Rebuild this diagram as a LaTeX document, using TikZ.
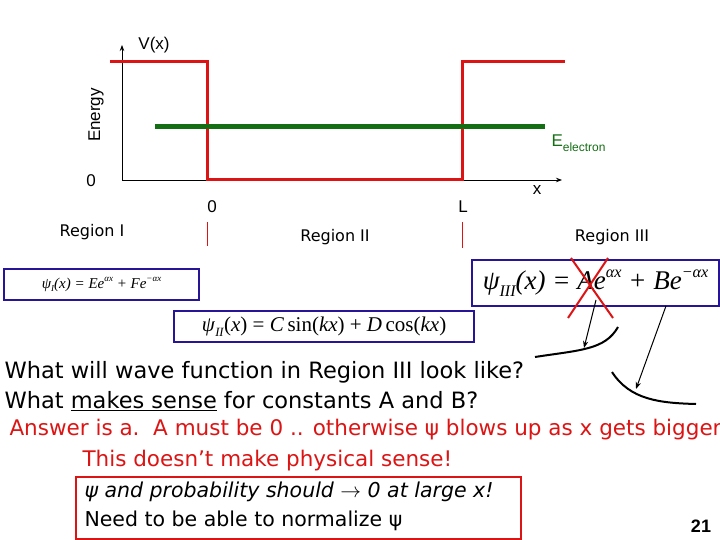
\documentclass[tikz,border=0pt]{standalone}
\usepackage{fontspec}
\setmainfont{Liberation Sans}
\newfontfamily\djfont{DejaVu Sans}
\newfontfamily\eqfont{Liberation Serif}
\usetikzlibrary{arrows.meta}
\definecolor{wred}{RGB}{220,20,20}
\definecolor{wgreen}{RGB}{20,110,20}
\definecolor{wblue}{RGB}{40,20,150}
\newcommand{\eqsup}[1]{\raisebox{0.45em}{\scalebox{0.6}{#1}}}
\newcommand{\eqsub}[1]{\raisebox{-0.25em}{\scalebox{0.6}{#1}}}
\begin{document}
\begin{tikzpicture}[x=1pt,y=-1pt,
  eqbox/.style={draw=wblue,line width=2.2pt,inner sep=2pt,anchor=north west},
  lbl/.style={font=\fontsize{16}{18}\selectfont\djfont},
  axl/.style={font=\fontsize{17}{19}\selectfont},
  ink/.style={line width=1pt},
  curvy/.style={line width=2pt}]
\useasboundingbox (0,0) rectangle (720,540);
% axes
\coordinate (o) at (122,180);
\coordinate (ytop) at (122,45);
\coordinate (xend) at (562,180);
\draw[-{Stealth[length=6pt]},line width=0.8pt] (o) -- (ytop);
\draw[-{Stealth[length=6pt]},line width=0.8pt] (o) -- (xend);
\node[axl,rotate=90] (en) at (96,115) {Energy};
\node[axl] (vx) at (154,45) {V(x)};
\node[axl] (z0) at (91,181) {0};
\node[axl] (xl) at (537,190) {x};
\node[axl] (z1) at (212,207) {0};
\node[axl] (ll) at (463,207) {L};
% potential
\draw[wred,line width=3pt] (110,62) -- (207,62) -- (207,180) -- (462,180) -- (462,62) -- (565,62);
\draw[wgreen,line width=5pt] (155,127) -- (545,127);
\node[wgreen,font=\fontsize{17}{19}\selectfont,anchor=west] (ee) at (548,143) {E\raisebox{-0.3em}{\fontsize{12}{13}\selectfont electron}};
\draw[wred,line width=0.6pt] (207,222) -- (207,246);
\draw[wred,line width=0.6pt] (462,222) -- (462,248);
\node[lbl] (r1) at (92,232) {Region I};
\node[lbl] (r2) at (335,237) {Region II};
\node[lbl] (r3) at (612,237) {Region III};
% equations
\node[eqbox,font=\fontsize{15}{17}\selectfont\eqfont\itshape,minimum width=195,minimum height=31] (e1) at (3,268) {ψ\eqsub{I}(x) = Ee\eqsup{αx} + Fe\eqsup{−αx}};
\node[eqbox,font=\fontsize{21}{24}\selectfont\eqfont,minimum width=300,minimum height=31,inner sep=1pt] (e2) at (173,310) {\textit{ψ}\eqsub{\textit{II}}(\textit{x}) = \textit{C}\,sin(\textit{kx}) + \textit{D}\,cos(\textit{kx})};
\node[eqbox,font=\fontsize{27}{30}\selectfont\eqfont\itshape,minimum width=247,minimum height=46,inner sep=1pt] (e3) at (471,259) {ψ\eqsub{III}(x) = Ae\eqsup{αx} + Be\eqsup{−αx}};
% cross
\draw[wred,line width=2pt] (571,258) -- (613,318);
\draw[wred,line width=2pt] (608,258) -- (568,318);
% arrows and curves
\draw[ink,-{Stealth[length=7pt]}] (596,300) -- (584,348);
\draw[curvy] (535,357) .. controls (580,350) and (605,350) .. (618,327);
\draw[ink,-{Stealth[length=7pt]}] (666,306) -- (636,389);
\draw[curvy] (612,372) .. controls (630,400) and (660,403) .. (696,404);
% text
\node[anchor=west,font=\fontsize{22.5}{25}\selectfont\djfont] (t1) at (1,372) {What will wave function in Region III look like?};
\node[anchor=west,font=\fontsize{22.5}{25}\selectfont\djfont] (t2) at (1,401) {What \underline{makes sense} for constants A and B?};
\node[anchor=west,wred,font=\fontsize{21.5}{25}\selectfont\djfont] (t3) at (6,430) {Answer is a.\ \ A must be 0 .. otherwise ψ blows up as x gets bigger.};
\node[anchor=west,wred,font=\fontsize{21.5}{25}\selectfont\djfont] (t4) at (79,461) {This doesn’t make physical sense!};
\node[draw=wred,line width=2.2pt,anchor=north west,minimum width=445,minimum height=62] (bx) at (75,476) {};
\node[anchor=west,font=\fontsize{20.5}{24}\selectfont\djfont\itshape] (t5) at (81,492) {ψ and probability should $\rightarrow$ 0 at large x!};
\node[anchor=west,font=\fontsize{20.5}{24}\selectfont\djfont] (t6) at (81,521) {Need to be able to normalize ψ};
\node[font=\bfseries\fontsize{18}{20}\selectfont] (pg) at (701,526) {21};
\end{tikzpicture}
\end{document}
